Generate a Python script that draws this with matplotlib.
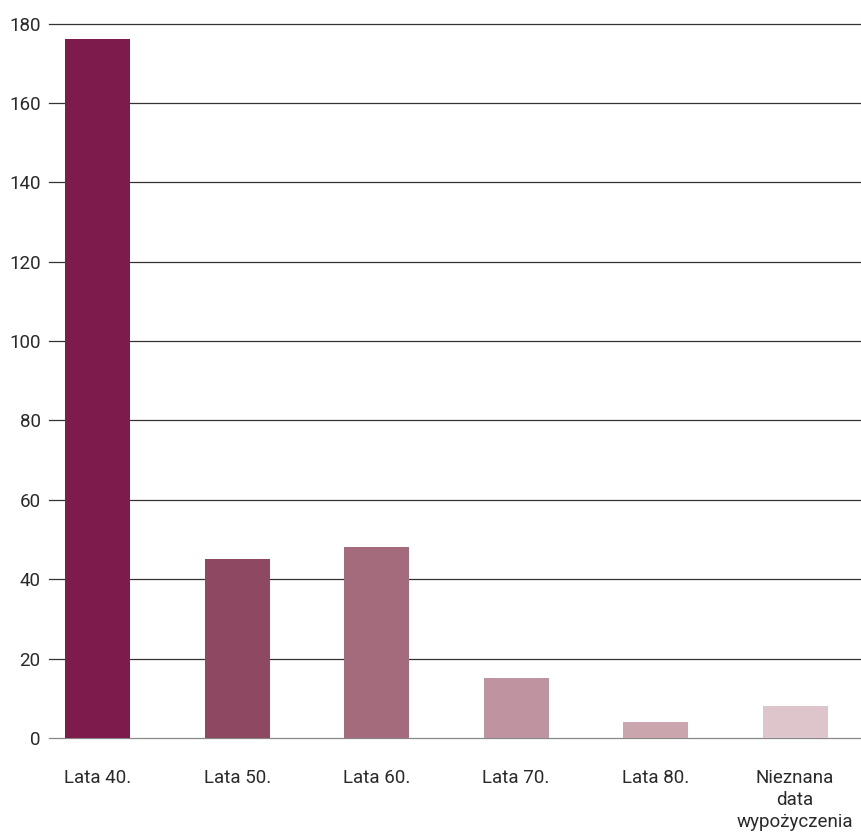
import matplotlib.pyplot as plt
import numpy as np

categories = ['Lata 40.', 'Lata 50.', 'Lata 60.', 'Lata 70.', 'Lata 80.',
              'Nieznana\ndata\nwypożyczenia']
values = [176, 45, 48, 15, 4, 8]
colors = ['#7D1B4C', '#8F4862', '#A46B7D', '#BF94A0', '#CAA5AD', '#DEC4CB']
yticks = [0, 20, 40, 60, 80, 100, 120, 140, 160, 180]

plt.rcParams['font.family'] = ['Roboto', 'DejaVu Sans']

fig = plt.figure(figsize=(8.62, 8.35), dpi=100)
ax = fig.add_axes([49/862, 1 - 738/835, 813/862, (738 - 23.5)/835])

x = np.arange(len(categories))
ax.bar(x, values, width=0.466, color=colors, zorder=3)

ax.set_ylim(0, 180)
ax.set_xlim(-0.35, 5.48)
ax.set_yticks(yticks)
ax.set_yticklabels([str(t) for t in yticks], fontsize=13.5, color='#2a2a2a')
ax.set_xticks(x)
ax.set_xticklabels(categories, fontsize=13.5, color='#2a2a2a', va='top',
                   linespacing=1.3)
for t in yticks:
    ax.axhline(t, color='#333333' if t else '#888888', lw=0.9, zorder=1,
               clip_on=False)

for s in ax.spines.values():
    s.set_visible(False)
ax.tick_params(axis='both', length=0)
ax.tick_params(axis='y', pad=6)
ax.tick_params(axis='x', pad=22)

fig.savefig('out.png', dpi=100)
